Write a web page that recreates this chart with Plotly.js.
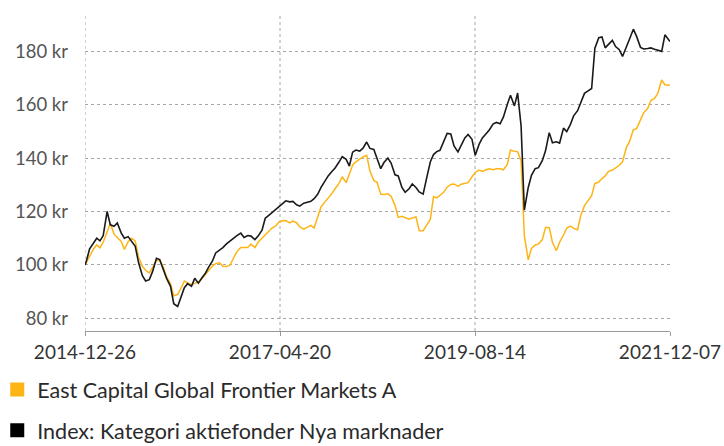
<!DOCTYPE html>
<html>
<head>
<meta charset="utf-8">
<script src="https://cdn.plot.ly/plotly-3.0.1.min.js"></script>
<style>
html,body{margin:0;padding:0;background:#fff;}
#chart{width:724px;height:446px;}
</style>
</head>
<body>
<div id="chart"></div>
<script>
// ---- data ----
const startDate = "2014-12-26";
const endDate = "2021-12-07";
const tickDates = ["2014-12-26", "2017-04-20", "2019-08-14", "2021-12-07"];
const yTicks = [80, 100, 120, 140, 160, 180];
const yTickText = ["80 kr", "100 kr", "120 kr", "140 kr", "160 kr", "180 kr"];
const fundName = "East Capital Global Frontier Markets A";
const indexName = "Index: Kategori aktiefonder Nya marknader";

// observation dates: start, then 1st and 15th of each month, then end
const dates = [startDate];
for (let y = 2015; y <= 2021; y++) {
  for (let m = 1; m <= 12; m++) {
    const mm = String(m).padStart(2, "0");
    dates.push(y + "-" + mm + "-01");
    if (!(y === 2021 && m === 12)) dates.push(y + "-" + mm + "-15");
  }
}
dates.push(endDate);

const indexValues = [
  100,
  // 2015
  101.5, 106, 108, 110, 109, 111, 120, 115, 114.5, 115.7, 112, 110,
  110.6, 109, 107, 101, 96, 94, 94.5, 97.5, 102.5, 102, 98, 95,
  // 2016
  92, 85.5, 84.5, 88, 91.5, 93, 92, 95, 93.2, 95, 97, 99.3,
  101.5, 104.5, 105.5, 106.5, 108, 109, 110, 111, 111.9, 110.3, 111, 110.8,
  // 2017
  109.5, 110.8, 113, 117.5, 118.5, 119.5, 120.8, 121.7, 122.8, 124, 123.6, 123.8,
  122.5, 122, 123.1, 123.4, 123.8, 124.8, 126.5, 129, 131.5, 133.3, 135, 136.3,
  // 2018
  138.5, 140.5, 139.5, 137, 142.2, 143, 142.6, 143.7, 146, 143.6, 143.2, 140,
  136, 138.3, 140, 138.1, 133.7, 133.3, 129, 127.2, 128.5, 130.3, 129, 127.3,
  // 2019
  126.5, 132, 138.5, 141.3, 142.4, 142.9, 146.5, 149.2, 149, 144.5, 142.3, 145,
  147.5, 148.8, 147, 141, 145.2, 147.5, 149.2, 150.5, 152.8, 153.3, 152.8, 155.3,
  // 2020
  160, 163.5, 159.5, 164.3, 152, 120.5, 129, 133.5, 136, 136.4, 139, 142.7,
  149.5, 145.7, 146.1, 145.6, 151.2, 149.9, 152.6, 155.8, 157.7, 160.8, 164.2, 165,
  // 2021
  166, 181.1, 185, 185.3, 181.2, 182.5, 184, 181.7, 180.5, 178, 182, 184.6,
  188.2, 185.5, 181.4, 180.8, 181, 181.2, 180.7, 180.4, 179.9, 186.1, 184.3,
  183.6
];

const fundValues = [
  100,
  // 2015
  101, 103, 106, 107.5, 106.4, 108.5, 112, 115.6, 111.5, 110.2, 108.8, 105.8,
  108.7, 110, 109, 103, 99.5, 98, 97, 99, 101.5, 102, 99, 95.5,
  // 2016
  93, 88.5, 89, 91.2, 94, 93.3, 92.6, 93.1, 93.6, 94.8, 96.5, 97.7,
  99.6, 100.5, 100.8, 99.5, 99.4, 100, 102.5, 105, 106.5, 106.5, 106.5, 107.8,
  // 2017
  106.5, 108.5, 110, 111.3, 112.7, 113.7, 114.6, 116, 116.5, 116.6, 115.7, 116.4,
  115.8, 114.2, 113.4, 114, 114.8, 113.8, 118.5, 121.7, 123.6, 125, 126.7, 128.5,
  // 2018
  130.5, 133, 130.8, 134, 137.3, 138.6, 139.6, 140.4, 141, 135.2, 131.6, 130.9,
  126.5, 126.4, 126.6, 125.7, 122.3, 117.8, 118.2, 117.7, 117.1, 117.6, 118, 112.8,
  // 2019
  112.8, 114.7, 117, 125.6, 125.1, 126, 127.3, 129.1, 130.1, 130.3, 129.4, 130.2,
  130.6, 130.8, 133, 134.6, 135.5, 135, 135.6, 136, 135.6, 136, 136, 135.6,
  // 2020
  137.5, 143, 142.5, 142.4, 139, 111, 101.9, 106.2, 107.5, 107.8, 109.5, 114,
  114, 108.5, 105.3, 108.5, 111.2, 113.8, 114.5, 113.7, 113.2, 118.5, 122.2, 124,
  // 2021
  125.9, 130.5, 131, 132.3, 133.3, 135, 135.5, 136.3, 137.3, 138.6, 144, 146.3,
  150.6, 151, 154.5, 157, 158.5, 161.5, 162.3, 164.2, 169.2, 167.4, 167.2,
  167.4
];

// ---- styles ----
const orange = "#FDB515";
const black = "#1a1a1a";
const gridColor = "#a6a6a6";
const fontFamily = "Lato, 'Open Sans', sans-serif";

const traces = [
  {x: dates, y: fundValues, type: "scatter", mode: "lines",
   line: {color: orange, width: 1.5}, showlegend: false, hoverinfo: "skip"},
  {x: dates, y: indexValues, type: "scatter", mode: "lines",
   line: {color: black, width: 1.6}, showlegend: false, hoverinfo: "skip"},
  {x: [null], y: [null], type: "scatter", mode: "markers", name: fundName,
   legendgroup: "a",
   marker: {symbol: "square", size: 14, color: orange}},
  {x: [null], y: [null], type: "scatter", mode: "markers", name: indexName,
   legendgroup: "b",
   marker: {symbol: "square", size: 14, color: "#000"}}
];

const shapes = tickDates.slice(0, 3).map(d => ({
  type: "line", xref: "x", yref: "paper", x0: d, x1: d, y0: 0, y1: 1,
  line: {color: gridColor, width: 1, dash: "dot"}, layer: "below"
}));

const layout = {
  width: 724, height: 446,
  margin: {l: 85, r: 54, t: 15, b: 115, autoexpand: false},
  paper_bgcolor: "#fff", plot_bgcolor: "#fff",
  font: {family: fontFamily, color: "#333"},
  showlegend: true,
  legend: {
    orientation: "v", x: -0.15, xanchor: "left", y: -0.12, yanchor: "top",
    font: {family: fontFamily, size: 21.5, color: "#2a2a2a"},
    tracegroupgap: 10, traceorder: "grouped", bgcolor: "rgba(0,0,0,0)"
  },
  xaxis: {
    type: "date", range: [startDate, endDate],
    tickmode: "array", tickvals: tickDates, ticktext: tickDates,
    showgrid: false, zeroline: false,
    showline: true, linecolor: "#9a9a9a", linewidth: 1.2,
    ticks: "outside", ticklen: 4, tickcolor: "#9a9a9a", tickwidth: 1,
    tickfont: {family: fontFamily, size: 19, color: "#333"},
    fixedrange: true
  },
  yaxis: {
    range: [75.3, 193.5],
    tickmode: "array", tickvals: yTicks, ticktext: yTickText,
    showgrid: true, gridcolor: gridColor, griddash: "dot", gridwidth: 1,
    zeroline: false, showline: false, ticks: "",
    ticklabelstandoff: 16,
    tickfont: {family: fontFamily, size: 18.5, color: "#555"},
    fixedrange: true
  },
  shapes: shapes
};

Plotly.newPlot("chart", traces, layout, {displayModeBar: false, staticPlot: true});
</script>
</body>
</html>
